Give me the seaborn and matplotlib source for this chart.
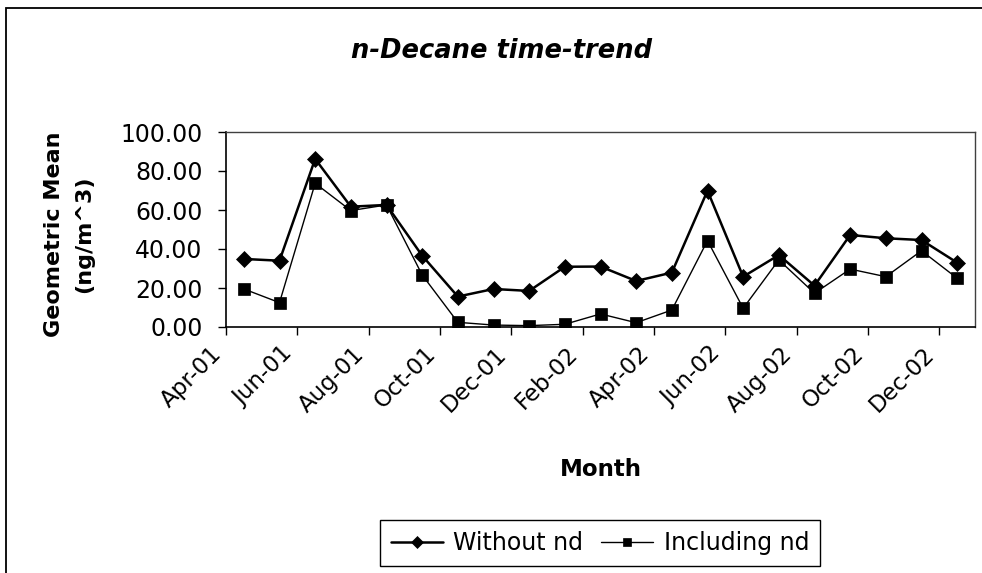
import numpy as np
import pandas as pd
import matplotlib
matplotlib.use("Agg")
import matplotlib.pyplot as plt
from matplotlib.patches import Rectangle
from matplotlib.ticker import FormatStrFormatter
import seaborn as sns

# Monthly geometric means of n-decane (ng/m^3)
months = ["Apr-01", "May-01", "Jun-01", "Jul-01", "Aug-01", "Sep-01", "Oct-01",
          "Nov-01", "Dec-01", "Jan-02", "Feb-02", "Mar-02", "Apr-02", "May-02",
          "Jun-02", "Jul-02", "Aug-02", "Sep-02", "Oct-02", "Nov-02", "Dec-02"]
without_nd = [34.9, 34.0, 86.2, 61.7, 62.6, 36.6, 15.6, 19.5, 18.5, 30.9, 31.0,
              23.6, 27.9, 69.9, 25.8, 36.9, 21.2, 47.2, 45.5, 44.6, 33.0]
including_nd = [19.5, 12.5, 73.7, 59.7, 62.6, 26.7, 2.4, 1.0, 0.7, 1.4, 6.7,
                2.2, 8.7, 44.3, 9.6, 34.4, 17.3, 29.7, 25.8, 39.1, 25.0]
series_names = ["Without nd", "Including nd"]
y_ticks = [0, 20, 40, 60, 80, 100]

sns.set_style("white")
plt.rcParams["font.family"] = ["DejaVu Sans"]
plt.rcParams.update({"text.color": "black", "axes.labelcolor": "black",
                     "xtick.color": "black", "ytick.color": "black"})

n = len(months)
df = pd.DataFrame({
    "slot": np.arange(n) + 0.5,          # each month sits in the middle of its slot
    series_names[0]: without_nd,
    series_names[1]: including_nd,
})

fig = plt.figure(figsize=(9.82, 5.73), dpi=100)
ax = fig.add_axes([226 / 982, 1 - 327 / 573, 749 / 982, 195 / 573])

sns.lineplot(data=df, x="slot", y=series_names[0], ax=ax, color="black",
             lw=1.8, marker="D", markersize=8.2, mec="black", mfc="black",
             mew=0.5, label=series_names[0])
sns.lineplot(data=df, x="slot", y=series_names[1], ax=ax, color="black",
             lw=1.0, marker="s", markersize=8.5, mec="black", mfc="black",
             mew=0.5, label=series_names[1])

ax.set_xlim(0, n)
ax.set_ylim(0, 100)
ax.set_yticks(y_ticks)
ax.yaxis.set_major_formatter(FormatStrFormatter("%.2f"))
ax.set_xticks(np.arange(0, n, 2))
ax.set_xticklabels(months[::2], rotation=45, ha="right")

ax.tick_params(axis="y", direction="out", length=6, width=1, pad=11,
               labelsize=17, left=True, color="black", labelcolor="black")
ax.tick_params(axis="x", direction="out", length=6, width=1, pad=5,
               labelsize=16.5, bottom=True, color="black", labelcolor="black")

for side in ("left", "bottom"):
    ax.spines[side].set_color("black")
    ax.spines[side].set_linewidth(1.2)
for side in ("top", "right"):
    ax.spines[side].set_color("#404040")
    ax.spines[side].set_linewidth(1.0)

ax.set_ylabel("Geometric Mean\n(ng/m^3)", fontsize=16, fontweight="bold",
              linespacing=1.6, va="center", ha="center", color="black")
ax.yaxis.set_label_coords(-0.2096, 0.477)
ax.set_xlabel("Month", fontsize=16.5, fontweight="bold", va="center",
              color="black")
ax.xaxis.set_label_coords(0.5, -0.733)

fig.text(501 / 982, 1 - 58 / 573, "n-Decane time-trend", fontsize=18.5,
         fontweight="bold", fontstyle="italic", ha="center", va="baseline",
         color="black")

leg = ax.legend(loc="center", bbox_to_anchor=(600 / 982, 1 - 543 / 573),
                bbox_transform=fig.transFigure, ncol=2, fontsize=17,
                frameon=True, fancybox=False, shadow=False, framealpha=1,
                edgecolor="black", handlelength=2.2, handletextpad=0.45,
                columnspacing=0.75, borderpad=0.45, markerscale=0.7,
                borderaxespad=0)
leg.get_frame().set_linewidth(1.0)
for t in leg.get_texts():
    t.set_color("black")

# chart-area border (left and top edges fall inside the canvas)
fig.add_artist(Rectangle((6 / 982, -0.1), 2.0, 1 - 8 / 573 + 0.1,
                         transform=fig.transFigure, fill=False,
                         lw=1.3, ec="black"))

fig.savefig("out.png", dpi=100, facecolor="white")
